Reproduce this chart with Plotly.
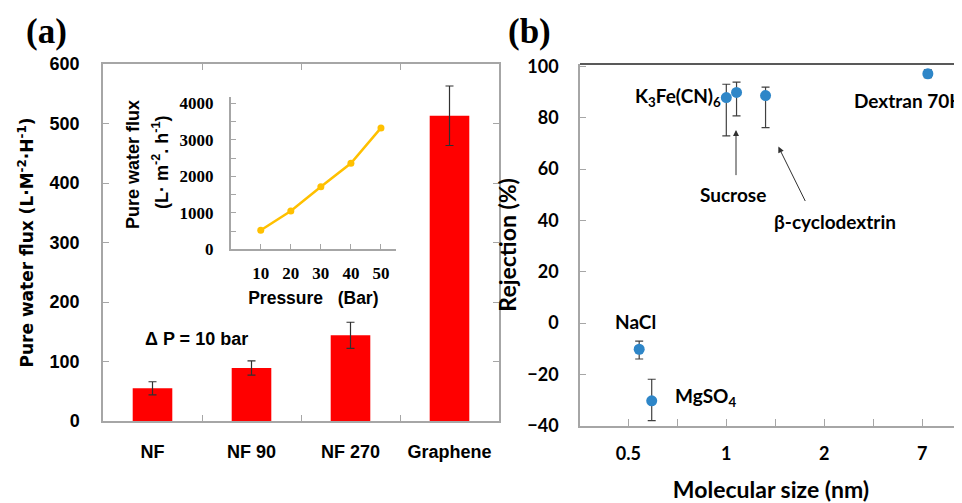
import math
import plotly.graph_objects as go

# ---------------- data ----------------
membranes = ["NF", "NF 90", "NF 270", "Graphene"]
flux = [55, 89, 144, 513]
flux_err = [11, 12, 22, 50]

pressure = [10, 20, 30, 40, 50]
pressure_flux = [520, 1050, 1715, 2355, 3325]

solutes = ["NaCl", "MgSO4", "K3Fe(CN)6", "Sucrose", "β-cyclodextrin", "Dextran 70K"]
mol_size = [0.54, 0.59, 1.0, 1.075, 1.32, 4.16]
rejection = [-10.2, -30.3, 87.9, 89.9, 88.7, 97.2]
rej_err_plus = [3.2, 8.4, 5.2, 4.0, 3.3, 1.5]
rej_err_minus = [3.8, 7.7, 14.9, 9.1, 12.5, 1.5]

flux_ticks = [0, 100, 200, 300, 400, 500, 600]
rej_ticks = [-40, -20, 0, 20, 40, 60, 80, 100]
size_tickvals = [0.5, 0.707, 1, 1.414, 2, 2.83, 4]
size_ticktext = ["0.5", " ", "1", " ", "2", " ", "7"]

# page body adds an 8px margin, so the figure is drawn 8px smaller/offset
OFF = 8
W, H = 962 - OFF, 503 - OFF
SANS = "DejaVu Sans"
ARIAL = "Liberation Sans"
SERIF = "Liberation Serif"
CAL = "Lato"
AX = "#A6A6A6"
TXT = "#000000"

fig = go.Figure()

fig.add_trace(go.Bar(
    x=membranes, y=flux, marker_color="#FF0000", marker_line_width=0,
    error_y=dict(type="data", array=flux_err, color="#303030", thickness=1.2, width=4),
    xaxis="x", yaxis="y", showlegend=False))

fig.add_trace(go.Scatter(
    x=pressure, y=pressure_flux, mode="lines+markers",
    line=dict(color="#FFC000", width=2.5), marker=dict(color="#FFC000", size=7),
    xaxis="x3", yaxis="y3", showlegend=False))

fig.add_trace(go.Scatter(
    x=mol_size, y=rejection, mode="markers", text=solutes,
    marker=dict(color="#2E86C8", size=11),
    error_y=dict(type="data", symmetric=False, array=rej_err_plus,
                 arrayminus=rej_err_minus, color="#404040", thickness=1.2, width=4),
    xaxis="x2", yaxis="y2", showlegend=False))


def px(x):
    return (x - OFF) / W


def py(y):
    return 1 - (y - OFF) / H


tickfont_a = dict(family=ARIAL, size=18, color=TXT, weight="bold")
tickfont_b = dict(family=CAL, size=18, color=TXT, weight="bold")

fig.update_layout(
    template="none",
    width=W, height=H, margin=dict(l=0, r=0, t=0, b=0, autoexpand=False),
    paper_bgcolor="white", plot_bgcolor="white",
    bargap=0.6,
    xaxis=dict(domain=[px(103), px(499)], type="category", showline=True, linecolor=AX,
               linewidth=1.5, mirror="ticks", ticks="inside", tickson="boundaries",
               tickcolor=AX, ticklen=6, tickfont=tickfont_a, ticklabelstandoff=14,
               showgrid=False, zeroline=False, anchor="y", automargin=False),
    yaxis=dict(domain=[py(421), py(64)], range=[0, 600], tickvals=flux_ticks,
               showline=True, linecolor=AX, linewidth=1.5, mirror="ticks", ticks="inside",
               tickcolor=AX, ticklen=6, tickfont=tickfont_a, ticklabelstandoff=18,
               showgrid=False, zeroline=False, anchor="x", automargin=False,
               title=dict(text="Pure water flux (L·M<sup>-2</sup>·H<sup>-1</sup>)",
                          font=dict(family=SANS, size=17, color=TXT, weight="bold"),
                          standoff=12)),
    xaxis3=dict(domain=[px(230.7), px(396)], range=[0, 55], tickvals=pressure,
                showline=True, linecolor=AX, linewidth=1.5, ticks="inside", tickcolor=AX,
                ticklen=6, tickfont=dict(family=SERIF, size=17, color=TXT, weight="bold"),
                ticklabelstandoff=8, showgrid=False, zeroline=False, anchor="y3",
                tickmode="array", automargin=False,
                title=dict(text="Pressure\u00a0\u00a0\u00a0(Bar)",
                           font=dict(family=ARIAL, size=17.5, color=TXT, weight="bold"),
                           standoff=9)),
    yaxis3=dict(domain=[py(249.3), py(96.7)], range=[0, 4180],
                tickvals=[0, 1000, 2000, 3000, 4000],
                minor=dict(dtick=500, ticks="inside", ticklen=6, tickcolor=AX),
                showline=True, linecolor=AX, linewidth=1.5, ticks="inside", tickcolor=AX,
                ticklen=6, tickfont=dict(family=SERIF, size=17, color=TXT, weight="bold"),
                ticklabelstandoff=12, showgrid=False, zeroline=False, anchor="x3",
                automargin=False),
    xaxis2=dict(domain=[px(580), 1.0], type="log",
                range=[math.log10(2 ** -1.493), math.log10(2 ** 2.405)],
                tickmode="array", tickvals=size_tickvals, ticktext=size_ticktext,
                showline=True, linecolor=AX, linewidth=1.5, ticks="inside", tickcolor=AX,
                ticklen=7, tickfont=tickfont_b, ticklabelstandoff=11,
                showgrid=False, zeroline=False, anchor="y2", automargin=False,
                title=dict(text="Molecular size (nm)",
                           font=dict(family=CAL, size=23, color=TXT, weight="bold"),
                           standoff=20)),
    yaxis2=dict(domain=[py(425.7), py(64)], range=[-40, 101], tickvals=rej_ticks,
                showline=True, linecolor=AX, linewidth=1.5, ticks="inside", tickcolor=AX,
                ticklen=6, tickfont=tickfont_b, ticklabelstandoff=16,
                showgrid=False, zeroline=False, anchor="x2", automargin=False,
                title=dict(text="Rejection (%)",
                           font=dict(family=CAL, size=23, color=TXT, weight="bold"),
                           standoff=4)),
    shapes=[dict(type="line", xref="x2 domain", yref="y2 domain", x0=0, x1=1, y0=1, y1=1,
                 line=dict(color="#595959", width=2))],
)


def lx(v):
    return math.log10(v)


lab = dict(family=CAL, size=19, color=TXT, weight="bold")
inset_title = dict(family=ARIAL, size=18, color=TXT, weight="bold")
C = dict(xanchor="center", yanchor="middle", showarrow=False)
ann = [
    dict(text="(a)", x=px(46), y=py(32), xref="paper", yref="paper", **C,
         font=dict(family=SERIF, size=35, color=TXT, weight="bold")),
    dict(text="(b)", x=px(529), y=py(32), xref="paper", yref="paper", **C,
         font=dict(family=SERIF, size=35, color=TXT, weight="bold")),
    dict(text="\u0394 P = 10 bar", x=px(196), y=py(339), xref="paper", yref="paper", **C,
         font=dict(family=ARIAL, size=18, color=TXT, weight="bold")),
    # inset y-axis title (two lines)
    dict(text="Pure water flux", x=px(133), y=py(165), xref="paper", yref="paper",
         textangle=-90, **C, font=inset_title),
    dict(text="(L· m<sup>-2</sup>. h<sup>-1</sup>)", x=px(160), y=py(163), xref="paper",
         yref="paper", textangle=-90, **C, font=inset_title),
    # panel (b) labels
    dict(text="K<sub>3</sub>Fe(CN)<sub>6</sub>", x=lx(0.975), y=88, xref="x2", yref="y2",
         xanchor="right", yanchor="middle", showarrow=False, font=lab),
    dict(text="Dextran 70K", x=lx(2.43), y=86.7, xref="x2", yref="y2", xanchor="left",
         yanchor="middle", showarrow=False, font=lab),
    dict(text="Sucrose", x=lx(1.05), y=50, xref="x2", yref="y2", **C, font=lab),
    dict(text="β-cyclodextrin", x=lx(2.157), y=39.6, xref="x2", yref="y2", **C, font=lab),
    dict(text="NaCl", x=lx(0.527), y=0.5, xref="x2", yref="y2", **C, font=lab),
    dict(text="MgSO<sub>4</sub>", x=lx(0.684), y=-29, xref="x2", yref="y2", xanchor="left",
         yanchor="middle", showarrow=False, font=lab),
    dict(text="", x=lx(1.071), y=75.3, ax=lx(1.071), ay=57.1, xref="x2", yref="y2",
         axref="x2", ayref="y2", showarrow=True, arrowhead=2, arrowsize=1.2,
         arrowwidth=1, arrowcolor="#303030"),
    dict(text="", x=lx(1.445), y=68.8, ax=lx(1.757), ay=47, xref="x2", yref="y2",
         axref="x2", ayref="y2", showarrow=True, arrowhead=2, arrowsize=1.2,
         arrowwidth=1, arrowcolor="#303030"),
]
fig.update_layout(annotations=ann)

fig.write_html("out.html")
